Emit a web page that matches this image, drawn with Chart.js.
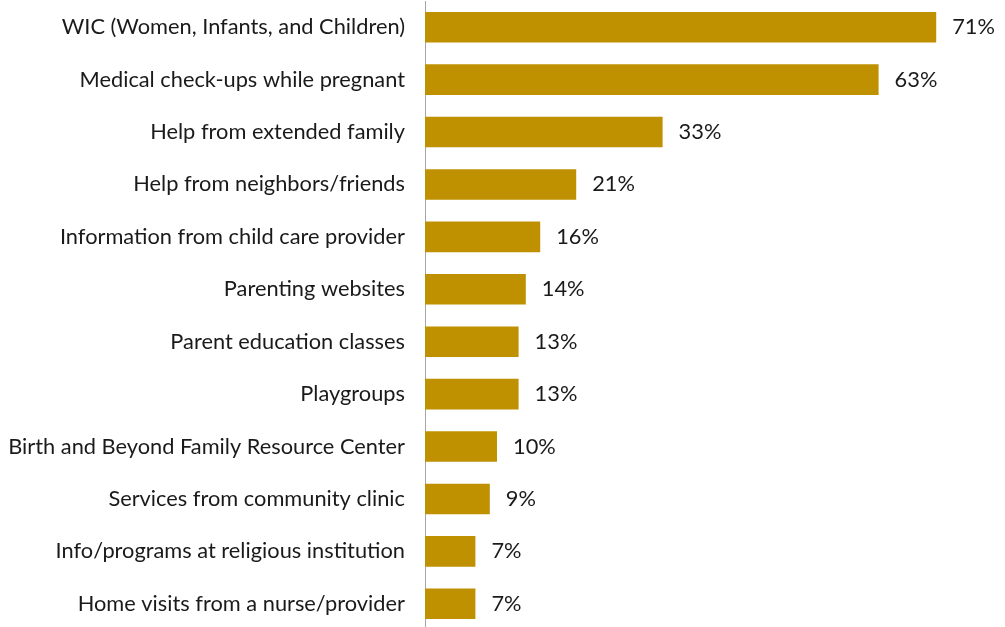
<!DOCTYPE html>
<html>
<head>
<meta charset="utf-8">
<script src="https://cdn.jsdelivr.net/npm/chart.js@4/dist/chart.umd.min.js"></script>
<style>
  html, body { margin: 0; padding: 0; background: #ffffff; overflow: hidden; }
  #wrap { position: relative; width: 1005px; height: 630px; }
</style>
</head>
<body>
<div id="wrap"><canvas id="chart" width="1005" height="630"></canvas></div>
<script>
// Sources of parenting information and support used by respondents
const categories = [
  'WIC (Women, Infants, and Children)',
  'Medical check-ups while pregnant',
  'Help from extended family',
  'Help from neighbors/friends',
  'Information from child care provider',
  'Parenting websites',
  'Parent education classes',
  'Playgroups',
  'Birth and Beyond Family Resource Center',
  'Services from community clinic',
  'Info/programs at religious institution',
  'Home visits from a nurse/provider'
];
const percentUsed = [71, 63, 33, 21, 16, 14, 13, 13, 10, 9, 7, 7];
const axisMax = 80;

const FONT = 'Lato, "Open Sans", sans-serif';
const FONT_SIZE = 21.8;
const TEXT_COLOR = '#1a1a1a';
const BAR_COLOR = '#bf9000';

// Writes the percentage just past the end of each bar
const valueLabels = {
  id: 'valueLabels',
  afterDatasetsDraw(chart) {
    const ctx = chart.ctx;
    const meta = chart.getDatasetMeta(0);
    ctx.save();
    ctx.font = FONT_SIZE + 'px ' + FONT;
    ctx.fillStyle = TEXT_COLOR;
    ctx.textAlign = 'left';
    ctx.textBaseline = 'middle';
    meta.data.forEach((bar, i) => {
      ctx.fillText(percentUsed[i] + '%', bar.x + 16, bar.y);
    });
    ctx.restore();
  }
};

new Chart(document.getElementById('chart'), {
  type: 'bar',
  data: {
    labels: categories,
    datasets: [{
      data: percentUsed,
      backgroundColor: BAR_COLOR,
      borderWidth: 0,
      categoryPercentage: 1,
      barPercentage: 0.584
    }]
  },
  options: {
    indexAxis: 'y',
    responsive: false,
    animation: false,
    layout: { padding: { top: 1, right: 4, bottom: 0, left: 0 } },
    plugins: { legend: { display: false }, tooltip: { enabled: false } },
    scales: {
      x: {
        min: 0,
        max: axisMax,
        display: false
      },
      y: {
        afterFit(scale) {
          scale.width = 425;
          scale.paddingTop = 0;
          scale.paddingBottom = 0;
        },
        grid: { display: false, drawTicks: false },
        border: { display: true, color: '#a6a6a6', width: 1 },
        ticks: {
          color: TEXT_COLOR,
          font: { family: FONT, size: FONT_SIZE },
          padding: 20,
          autoSkip: false
        }
      }
    }
  },
  plugins: [valueLabels]
});
</script>
</body>
</html>
